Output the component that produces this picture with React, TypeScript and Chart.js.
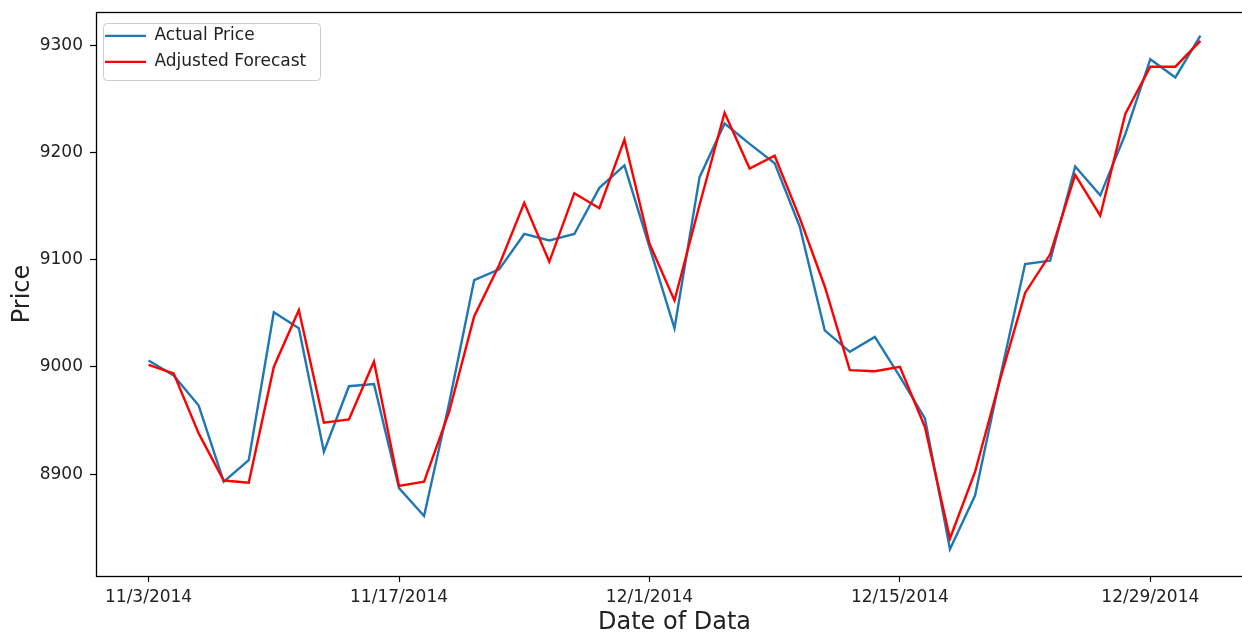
import React, { useEffect, useRef } from 'react';
import { Chart, registerables } from 'chart.js';

Chart.register(...registerables);

const dateLabels: string[] = [
  '11/3/2014', '11/4/2014', '11/5/2014', '11/6/2014', '11/7/2014',
  '11/10/2014', '11/11/2014', '11/12/2014', '11/13/2014', '11/14/2014',
  '11/17/2014', '11/18/2014', '11/19/2014', '11/20/2014', '11/21/2014',
  '11/24/2014', '11/25/2014', '11/26/2014', '11/27/2014', '11/28/2014',
  '12/1/2014', '12/2/2014', '12/3/2014', '12/4/2014', '12/5/2014',
  '12/8/2014', '12/9/2014', '12/10/2014', '12/11/2014', '12/12/2014',
  '12/15/2014', '12/16/2014', '12/17/2014', '12/18/2014', '12/19/2014',
  '12/22/2014', '12/23/2014', '12/24/2014', '12/25/2014', '12/26/2014',
  '12/29/2014', '12/30/2014', '12/31/2014',
];

const actualPrice: number[] = [
  9006, 8992, 8964, 8893, 8913, 9051, 9036, 8921, 8982, 8984,
  8887, 8861, 8966, 9081, 9091, 9124, 9118, 9124, 9167, 9188,
  9112, 9036, 9177, 9227, 9208, 9190, 9131, 9034, 9014, 9028,
  8991, 8952, 8830, 8880, 8990, 9096, 9099, 9187, 9160, 9217,
  9287, 9270, 9309,
];

const adjustedForecast: number[] = [
  9002, 8994, 8938, 8894, 8892, 9000, 9053, 8948, 8951, 9005,
  8889, 8893, 8958, 9047, 9095, 9153, 9098, 9162, 9148, 9212,
  9115, 9062, 9151, 9237, 9185, 9197, 9139, 9075, 8997, 8996,
  9000, 8944, 8840, 8902, 8988, 9069, 9105, 9179, 9141, 9236,
  9280, 9280, 9304,
];

const seriesNames = ['Actual Price', 'Adjusted Forecast'];
const xTitle = 'Date of Data';
const yTitle = 'Price';

const FONT = "'DejaVu Sans', sans-serif";
const TEXT = '#222222';

const framePlugin = {
  id: 'mplFrame',
  beforeDraw(chart: any) {
    const lg = chart.legend;
    if (!lg || !lg.legendHitBoxes || !lg.legendHitBoxes.length) return;
    let l = Infinity, t = Infinity, r = -Infinity, b = -Infinity;
    for (const h of lg.legendHitBoxes) {
      l = Math.min(l, h.left);
      t = Math.min(t, h.top);
      r = Math.max(r, h.left + h.width);
      b = Math.max(b, h.top + h.height);
    }
    const x0 = Math.round(l - 2) + 0.5;
    const y0 = Math.round(t - 4.5) + 0.5;
    const x1 = Math.round(r + 14) + 0.5;
    const y1 = Math.round(b + 10) + 0.5;
    const ctx = chart.ctx;
    ctx.save();
    ctx.beginPath();
    if (ctx.roundRect) ctx.roundRect(x0, y0, x1 - x0, y1 - y0, 4);
    else ctx.rect(x0, y0, x1 - x0, y1 - y0);
    ctx.fillStyle = 'rgba(255,255,255,0.8)';
    ctx.fill();
    ctx.strokeStyle = '#cccccc';
    ctx.lineWidth = 1;
    ctx.stroke();
    ctx.restore();
  },
  afterDatasetsDraw(chart: any) {
    const { left, top, right, bottom } = chart.chartArea;
    const ctx = chart.ctx;
    ctx.save();
    ctx.strokeStyle = '#000000';
    ctx.lineWidth = 1.3;
    ctx.strokeRect(Math.round(left) + 0.5, Math.round(top) + 0.5, Math.round(right - left), Math.round(bottom - top));
    ctx.restore();
  },
};

export default function App() {
  const canvasRef = useRef<HTMLCanvasElement | null>(null);

  useEffect(() => {
    if (!canvasRef.current) return;
    const toPoints = (vals: number[]) => vals.map((v, i) => ({ x: i, y: v }));
    const chart = new Chart(canvasRef.current, {
      type: 'line',
      data: {
        datasets: [
          {
            label: seriesNames[0],
            data: toPoints(actualPrice),
            borderColor: '#1f77b4',
            backgroundColor: '#1f77b4',
            borderWidth: 2.4,
            pointRadius: 0,
            tension: 0,
            order: 2,
          },
          {
            label: seriesNames[1],
            data: toPoints(adjustedForecast),
            borderColor: '#ff0000',
            backgroundColor: '#ff0000',
            borderWidth: 2.4,
            pointRadius: 0,
            tension: 0,
            order: 1,
          },
        ],
      },
      options: {
        animation: false,
        responsive: false,
        devicePixelRatio: 1,
        layout: { padding: { top: 12, right: 9, bottom: 0, left: 0 } },
        plugins: {
          tooltip: { enabled: false },
          legend: {
            position: 'chartArea',
            align: 'start',
            title: { display: true, text: '', font: { size: 2 }, padding: { top: 16, bottom: 0 } },
            labels: {
              usePointStyle: true,
              pointStyle: 'line',
              pointStyleWidth: 41,
              padding: 9,
              color: TEXT,
              font: { family: FONT, size: 17 },
              sort: (a: any, b: any) => a.datasetIndex - b.datasetIndex,
            },
          },
        },
        scales: {
          x: {
            type: 'linear',
            min: -2.1,
            max: 44.1,
            afterFit: (scale: any) => {
              scale.height = 56;
              scale.paddingLeft = 0;
              scale.paddingRight = 0;
            },
            grid: { display: true, drawOnChartArea: false, drawTicks: true, tickLength: 6, tickColor: '#000', tickWidth: 1.2 },
            border: { display: false },
            ticks: {
              stepSize: 10,
              includeBounds: false,
              autoSkip: false,
              maxRotation: 0,
              padding: 5,
              color: TEXT,
              font: { family: FONT, size: 17 },
              callback: (value: any) => (Number.isInteger(value) && dateLabels[value] ? dateLabels[value] : ''),
            },
            title: {
              display: true,
              text: xTitle,
              color: TEXT,
              font: { family: FONT, size: 24, lineHeight: 0.8 },
              padding: 0,
            },
          },
          y: {
            type: 'linear',
            min: 8805,
            max: 9331,
            afterFit: (scale: any) => {
              scale.width = 96;
              scale.paddingTop = 0;
              scale.paddingBottom = 0;
            },
            grid: { display: true, drawOnChartArea: false, drawTicks: true, tickLength: 6, tickColor: '#000', tickWidth: 1.2 },
            border: { display: false },
            ticks: {
              stepSize: 100,
              includeBounds: false,
              padding: 7,
              color: TEXT,
              font: { family: FONT, size: 17 },
              callback: (value: any) => String(value),
            },
            title: {
              display: true,
              text: yTitle,
              color: TEXT,
              font: { family: FONT, size: 24, lineHeight: 1.2 },
              padding: { top: 8, bottom: 0 },
            },
          },
        },
      },
      plugins: [framePlugin],
    } as any);
    return () => chart.destroy();
  }, []);

  return (
    <div style={{ position: 'fixed', left: 0, top: 0, width: 1242, height: 632, overflow: 'hidden', background: '#fff' }}>
      <canvas ref={canvasRef} width={1262} height={632} style={{ display: 'block', width: 1262, height: 632 }} />
    </div>
  );
}
